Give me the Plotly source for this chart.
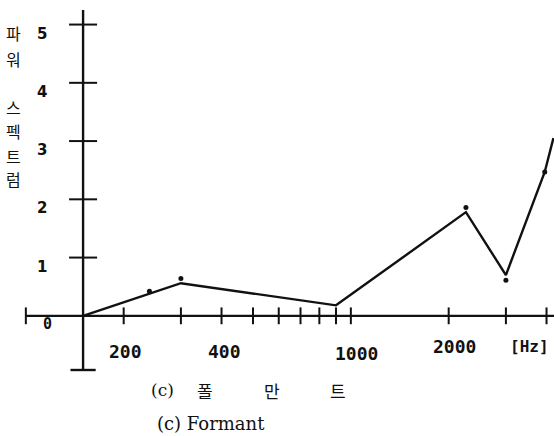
import numpy as np
import plotly.graph_objects as go

# Formant power spectrum: frequency [Hz] vs. power
freq_hz = [150, 300, 900, 2260, 3000, 3950, 4200]
power = [0.0, 0.56, 0.18, 1.78, 0.70, 2.47, 3.05]

# separately marked measurement dots
dot_freq_hz = [240, 300, 2260, 3000, 3950]
dot_power = [0.42, 0.64, 1.86, 0.61, 2.47]

# axis ticks and labels
x_tick_hz = [200, 300, 400, 500, 600, 700, 800, 900, 1000, 2000, 3000, 4000]
x_label_hz = [200, 400, 1000, 2000]
x_label_text = ["200", "400", "1000", "2000"]
y_tick_vals = [1, 2, 3, 4, 5]
y_tick_text = ["1", "2", "3", "4", "5"]
origin_text = "0"
unit_text = "[Hz]"
y_title_chars = ["파", "워", "스", "펙", "트", "럼"]
caption_kr = ["(c)", "폴", "만", "트"]
caption_en = "(c) Formant"

# axis frame (crossing axes)
origin_hz = 150
x_axis_start_hz = 100
y_axis_bottom, y_axis_top = -0.93, 5.25

W, H = 554, 436
ML, MR, MT, MB = 25, 0, 10, 66
PW, PH = W - ML - MR, H - MT - MB
PX_PER_DECADE = 325.0
x_lo = np.log10(99.4)
x_hi = x_lo + PW / PX_PER_DECADE

ink = "#111111"


def px_to_paper(px, py):
    return (px - ML) / PW, (H - MB - py) / PH


def label(x, y, text, font, xref="paper", yref="paper", dx=0, dy=0):
    return dict(x=x, y=y, xref=xref, yref=yref, text=text, showarrow=False,
                xanchor="center", yanchor="middle", xshift=dx, yshift=dy, font=font)


fig = go.Figure()

# x axis line and y axis line
fig.add_trace(go.Scatter(x=[x_axis_start_hz, 10 ** x_hi * 1.05], y=[0, 0], mode="lines",
                         line=dict(color=ink, width=2.4), hoverinfo="skip", cliponaxis=False))
fig.add_trace(go.Scatter(x=[origin_hz, origin_hz], y=[y_axis_bottom, y_axis_top], mode="lines",
                         line=dict(color=ink, width=2.4), hoverinfo="skip", cliponaxis=False))

# crossing tick marks on the x axis (+ end mark)
fig.add_trace(go.Scatter(x=x_tick_hz + [x_axis_start_hz], y=[0] * (len(x_tick_hz) + 1),
                         mode="markers", cliponaxis=False, hoverinfo="skip",
                         marker=dict(symbol="line-ns", size=12, line=dict(color=ink, width=2))))
# crossing tick marks on the y axis
fig.add_trace(go.Scatter(x=[origin_hz] * len(y_tick_vals), y=y_tick_vals,
                         mode="markers", cliponaxis=False, hoverinfo="skip",
                         marker=dict(symbol="line-ew", size=20, line=dict(color=ink, width=2))))
# foot bar of the y axis
fig.add_trace(go.Scatter(x=[origin_hz], y=[y_axis_bottom], mode="markers", cliponaxis=False,
                         hoverinfo="skip",
                         marker=dict(symbol="line-ew", size=18, line=dict(color=ink, width=2.4))))

# spectrum line
fig.add_trace(go.Scatter(x=freq_hz, y=power, mode="lines",
                         line=dict(color=ink, width=2.4), hoverinfo="skip"))
# measurement dots
fig.add_trace(go.Scatter(x=dot_freq_hz, y=dot_power, mode="markers",
                         marker=dict(color=ink, size=5), hoverinfo="skip"))

ann = []
tick_font = dict(family="DejaVu Sans Mono", size=18, color=ink, weight="bold")
x_label_dx = [2, 3, 6, 6]
x_label_dy = [-36, -36, -38, -31]
for f, t, dx, dy in zip(x_label_hz, x_label_text, x_label_dx, x_label_dy):
    ann.append(label(np.log10(f), 0, t, tick_font, "x", "y", dx, dy))
ux, uy = px_to_paper(529, 346)
ann.append(label(ux, uy, unit_text,
                 dict(family="DejaVu Sans Mono", size=16, color=ink, weight="bold")))
ann.append(label(np.log10(origin_hz), 0, origin_text,
                 dict(family="DejaVu Sans Mono", size=15, color=ink, weight="bold"),
                 "x", "y", -36, -8))
for v, t in zip(y_tick_vals, y_tick_text):
    ann.append(label(np.log10(origin_hz), v, t,
                     dict(family="DejaVu Sans", size=15, color=ink, weight="bold"),
                     "x", "y", -41, -9))

# vertical Korean axis title
title_y_px = [33, 59, 107, 131, 156, 179]
for ch, py in zip(y_title_chars, title_y_px):
    px_, py_ = px_to_paper(13, py)
    ann.append(label(px_, py_, ch, dict(family="Noto Sans CJK KR", size=16, color=ink)))

# captions
cap_x_px = [162, 205, 272, 338]
for i, (t, cx) in enumerate(zip(caption_kr, cap_x_px)):
    px_, py_ = px_to_paper(cx, 390)
    fam = "DejaVu Serif" if i == 0 else "Noto Sans CJK KR"
    ann.append(label(px_, py_, t, dict(family=fam, size=17, color=ink)))
px_, py_ = px_to_paper(211, 424)
ann.append(label(px_, py_, caption_en, dict(family="DejaVu Serif", size=18, color=ink)))

fig.update_layout(
    width=W, height=H,
    margin=dict(l=ML, r=MR, t=MT, b=MB),
    paper_bgcolor="white", plot_bgcolor="white",
    showlegend=False,
    xaxis=dict(type="log", range=[x_lo, x_hi], visible=False),
    yaxis=dict(range=[y_axis_bottom, y_axis_top], visible=False),
    annotations=ann,
)

fig.write_html("out.html")
